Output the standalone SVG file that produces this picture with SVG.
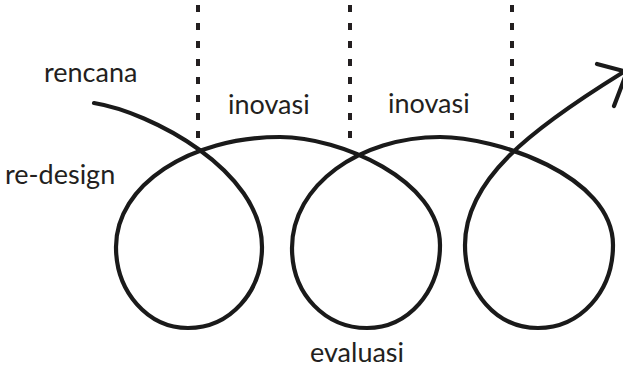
<svg xmlns="http://www.w3.org/2000/svg" width="623" height="367" viewBox="0 0 623 367">
  <style>
    .label { font-family: Lato, "Open Sans", "Liberation Sans", sans-serif; font-size: 27px; fill: #231f20; }
    .divider { stroke: #231f20; stroke-width: 4; stroke-dasharray: 7 11; fill: none; }
    .loop { stroke: #1a1a1a; stroke-width: 4.2; fill: none; stroke-linecap: round; stroke-linejoin: round; }
  </style>

  <!-- vertical dashed dividers between phases -->
  <g id="dividers">
    <line class="divider" x1="198" y1="5" x2="198" y2="138"/>
    <line class="divider" x1="350" y1="5" x2="350" y2="138"/>
    <line class="divider" x1="512" y1="5" x2="512" y2="138"/>
  </g>

  <!-- looping process line with open arrowhead -->
  <g id="connectors">
    <path class="loop" d="M94,103
      C150,112 262,170 262,247
      C262,292 230,328 188,328
      C148,328 116,292 116,247
      C116,185 190,137 280,137
      C340,137 440,180 440,245
      C440,292 408,328 367,328
      C326,328 292,295 292,248
      C292,185 360,137 440,137
      C495,137 613,175 613,245
      C613,292 580,328 538,328
      C496,328 465,292 465,245
      C465,180 530,130 622,73"/>
    <path class="loop" d="M597,64 L627,72 L614,106"/>
  </g>

  <g id="rencana"><text class="label" x="44" y="82">rencana</text></g>
  <g id="re-design"><text class="label" x="5" y="184">re-design</text></g>
  <g id="inovasi-1"><text class="label" x="228" y="114">inovasi</text></g>
  <g id="inovasi-2"><text class="label" x="388" y="113">inovasi</text></g>
  <g id="evaluasi"><text class="label" x="310" y="362">evaluasi</text></g>
</svg>
